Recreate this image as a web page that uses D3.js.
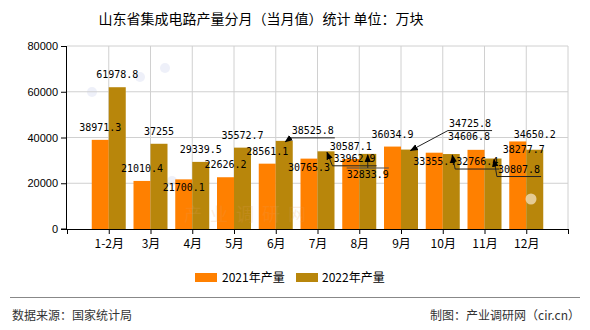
<!DOCTYPE html>
<html><head><meta charset="utf-8">
<script src="https://cdn.jsdelivr.net/npm/d3@7/dist/d3.min.js"></script>
<style>body{margin:0;background:#fff}svg{display:block}</style>
</head><body>
<svg id="c" width="590" height="330"></svg>
<script>
const categories = ["1-2月","3月","4月","5月","6月","7月","8月","9月","10月","11月","12月"];
const values2021 = [38971.3,21010.4,21700.1,22626.2,28561.1,30765.3,30587.1,36034.9,33355.4,34606.8,38277.7];
const values2022 = [61978.8,37255,29339.5,35572.7,38525.8,33962.9,32833.9,34725.8,32766.4,30807.8,34650.2];
const yTicks = [0,20000,40000,60000,80000];
const seriesNames = ["2021年产量","2022年产量"];

// label layout (not data): [dx, dy, leaderType]
const lay2021 = [[0,0],[0,0],[0,21],[0,0],[0,0],[0,21],[0,0],[0,0],[0,21],[-7,-1],[6,21]];
const lay2022 = [[0,0],[0,0],[0,0],[0,0],[28.5,2,"under"],[28.5,19.5,"under"],[0,33,"over"],[60.5,-14,"under"],[26,20,"under"],[26,23,"under"],[0,-3]];

const colors = ["#FF8000","#B8860B"];
const svg = d3.select("#c");
const L=67,R=568,T=46,B=229;
const x = d3.scaleLinear().domain([0,categories.length+1]).range([L,R]);
const y = d3.scaleLinear().domain([0,80000]).range([B,T]);
const bw = 17;

// watermark dots
const wm = svg.append("g").attr("opacity",0.5);
[[92,92],[165,68],[140,77],[236,181],[172,181]].forEach(p=>{
  wm.append("circle").attr("cx",p[0]).attr("cy",p[1]).attr("r",5).attr("fill","#dfe3f5");
});

// grid
svg.append("g").selectAll("line.h").data(yTicks.filter(d=>d>0)).join("line")
  .attr("x1",L).attr("x2",R).attr("y1",d=>y(d)).attr("y2",d=>y(d)).attr("stroke","#d0d0d0");
svg.append("g").selectAll("line.v").data(d3.range(1,categories.length+2)).join("line")
  .attr("x1",d=>x(d)).attr("x2",d=>x(d)).attr("y1",T).attr("y2",B).attr("stroke","#d0d0d0");

// bars
const series=[values2021,values2022];
series.forEach((vals,s)=>{
  svg.append("g").selectAll("rect").data(vals).join("rect")
    .attr("x",(d,i)=>x(i+1)-bw+s*bw).attr("width",bw)
    .attr("y",d=>y(d)).attr("height",d=>B-y(d)).attr("fill",colors[s]);
});

// watermark text
svg.append("text").attr("x",184).attr("y",221).attr("font-family","Noto Sans CJK SC")
  .attr("font-size",18).attr("letter-spacing",8).attr("fill","#e8a060").attr("opacity",0.18).text("产业调研网");
svg.append("circle").attr("cx",531).attr("cy",199).attr("r",5.5).attr("fill","#f0dcb8").attr("opacity",0.8);

// axes
const yAxis = d3.axisLeft(y).tickValues(yTicks).tickSize(6).tickFormat(d3.format("d"));
const gy = svg.append("g").attr("transform",`translate(${L},0)`).call(yAxis);
gy.select(".domain").attr("d",`M-0.5,${T}V${B}`).attr("stroke","#000");
gy.selectAll("text").attr("font-family","Liberation Sans").attr("font-size",11).attr("fill","#000").attr("x",-9);
const xAxis = d3.axisBottom(x).tickValues(d3.range(0,categories.length+2)).tickSize(5)
  .tickFormat(d=>categories[d-1]||"");
const gx = svg.append("g").attr("transform",`translate(0,${B})`).call(xAxis);
gx.select(".domain").attr("d",`M${L},0.5H${R}`).attr("stroke","#000");
gx.selectAll("text").attr("font-family","Noto Sans CJK SC").attr("font-size",12).attr("fill","#000").attr("dy","0.9em");
svg.append("line").attr("x1",L-6).attr("x2",L).attr("y1",B).attr("y2",B).attr("stroke","#000");

// labels
const fmt = v=>String(v);
const defs = svg.append("defs");
defs.append("marker").attr("id","arr").attr("viewBox","0 0 10 10").attr("refX",9).attr("refY",5)
  .attr("markerWidth",8).attr("markerHeight",8).attr("orient","auto-start-reverse")
  .append("path").attr("d","M0,1L10,5L0,9Z").attr("fill","#000");
const lg = svg.append("g");
const tg = svg.append("g");
series.forEach((vals,s)=>{
  const lay = s===0?lay2021:lay2022;
  vals.forEach((v,i)=>{
    const cx = x(i+1)-bw/2+s*bw, top=y(v);
    const [dx,dy,type]=lay[i];
    const tx=cx+dx, ty=top-9+dy;
    const txt = fmt(v), w = txt.length*6.02;
    tg.append("text").attr("x",tx).attr("y",ty).attr("text-anchor","middle")
      .attr("font-family","DejaVu Sans Mono").attr("font-size",10).attr("fill","#000").text(txt);
    if(type==="under"){
      const ly=ty+4, lx=tx-w/2-1;
      lg.append("path").attr("d",`M${tx+w/2+1},${ly}H${lx}L${cx+1},${top+1}`)
        .attr("fill","none").attr("stroke","#222").attr("stroke-width",1).attr("marker-end","url(#arr)");
    } else if(type==="over"){
      const ly=ty-10;
      lg.append("path").attr("d",`M${tx-w/2},${ly}H${tx+w/2}`).attr("stroke","#555").attr("stroke-width",1.5).attr("opacity",0.7);
      lg.append("path").attr("d",`M${cx},${ly}V${top+1}`).attr("fill","none").attr("stroke","#222").attr("marker-end","url(#arr)");
    }
  });
});

// title
svg.append("text").attr("x",261).attr("y",24).attr("text-anchor","middle")
  .attr("font-family","Noto Sans CJK SC").attr("font-size",14).attr("fill","#000")
  .text("山东省集成电路产量分月（当月值）统计 单位：万块");

// legend
const leg = svg.append("g");
[[195,222],[296,322]].forEach((p,s)=>{
  leg.append("rect").attr("x",p[0]).attr("y",273).attr("width",22).attr("height",9).attr("fill",colors[s]);
  leg.append("text").attr("x",p[1]).attr("y",282).attr("font-family","Noto Sans CJK SC").attr("font-size",12)
    .attr("fill","#000").text(seriesNames[s]);
});

// footer
svg.append("line").attr("x1",10).attr("x2",580).attr("y1",297.5).attr("y2",297.5).attr("stroke","#888").attr("stroke-width",1);
svg.append("text").attr("x",12).attr("y",320).attr("font-family","Noto Sans CJK SC").attr("font-size",12).attr("fill","#333").text("数据来源：国家统计局");
svg.append("text").attr("x",580).attr("y",320).attr("text-anchor","end").attr("font-family","Noto Sans CJK SC").attr("font-size",12).attr("fill","#333").text("制图：产业调研网（cir.cn）");
</script>
</body></html>
